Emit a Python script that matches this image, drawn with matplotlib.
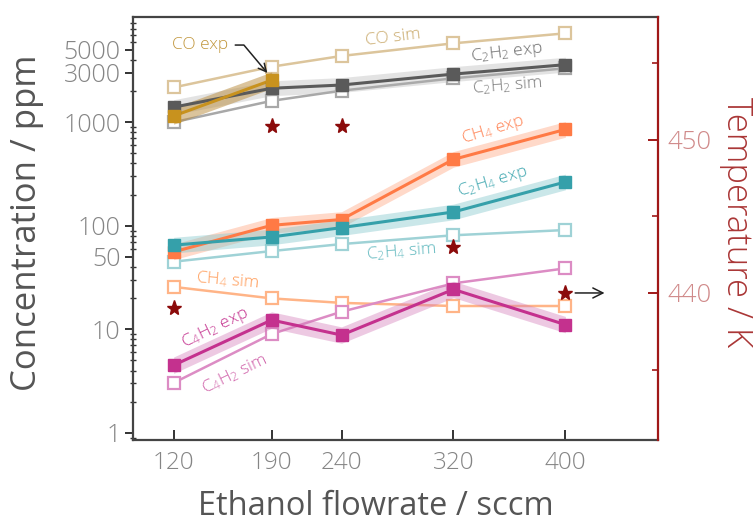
import matplotlib
matplotlib.use("Agg")
import matplotlib.pyplot as plt
from matplotlib.ticker import FixedLocator, LogLocator, NullFormatter, FixedFormatter
import numpy as np

plt.rcParams['font.family'] = ['Open Sans', 'DejaVu Sans']
plt.rcParams['font.weight'] = 'light'

# Ethanol flowrate (sccm)
flow = [120, 190, 240, 320, 400]

# Measured (exp) and simulated (sim) concentrations in ppm
co_flow = [120, 190]
co_exp = [1150, 2550]
co_sim = [2170, 3440, 4370, 5790, 7230]

c2h2_exp = [1400, 2130, 2290, 2920, 3600]
c2h2_sim = [1000, 1610, 2020, 2660, 3320]

ch4_exp = [56, 101, 115, 438, 853]
ch4_sim = [25.7, 19.9, 18.0, 16.8, 16.8]

c2h4_exp = [65, 78, 96, 136, 265]
c2h4_sim = [45, 57, 66.6, 81, 91]

c4h2_exp = [4.5, 12.3, 8.8, 24.3, 11.1]
c4h2_sim = [3.04, 9.0, 14.8, 27.8, 38.8]

# Relative uncertainty of the measured values (shaded bands)
rel_err = {'CO': 0.2, 'C2H2': 0.18, 'CH4': 0.19, 'C2H4': 0.19, 'C4H2': 0.2}

# Gas temperature (K), right axis
temperature = [439.0, 450.9, 450.9, 443.0, 440.0]

y_ticks = [1, 10, 50, 100, 1000, 3000, 5000]
y_ticklabels = ['1', '10', '50', '100', '1000', '3000', '5000']
t_ticks = [440, 450]

fig = plt.figure(figsize=(7.56, 5.24), dpi=100)
ax = fig.add_axes([0.176, 0.160, 0.694, 0.8076])
ax.set_yscale('log')
ax.set_xlim(91, 466)
ax.set_ylim(0.85, 10400)

# (line, sim, band)
colors = {
    'CO': ('#c8921e', '#dcc59c', '#b88a3a'),
    'C2H2': ('#5a5a5a', '#a8a8a8', '#b0b0b0'),
    'CH4': ('#ff7a45', '#ffb487', '#ffa078'),
    'C2H4': ('#35a0aa', '#9fd2d6', '#7cc3c9'),
    'C4H2': ('#c4318e', '#dc8cc4', '#d27ab8'),
}


def draw_sim(x, y, key):
    c = colors[key][1]
    ax.plot(x, y, '-', color=c, lw=1.8, zorder=2)
    ax.plot(x, y, 's', ms=8, mfc='white', mec=c, mew=1.6, zorder=3, ls='none')


def draw_exp(x, y, key, alpha=0.4):
    c = colors[key][0]
    y = np.asarray(y, float)
    e = rel_err[key]
    ax.fill_between(x, y / (1 + e), y * (1 + e), color=colors[key][2],
                    alpha=alpha, lw=0, zorder=4)
    ax.plot(x, y, '-', color=c, lw=2.2, zorder=5)
    ax.plot(x, y, 's', ms=8, color=c, zorder=6, ls='none')


for key, sim in [('CO', co_sim), ('C2H2', c2h2_sim), ('CH4', ch4_sim),
                 ('C2H4', c2h4_sim), ('C4H2', c4h2_sim)]:
    draw_sim(flow, sim, key)

draw_exp(flow, c2h2_exp, 'C2H2', alpha=0.35)
draw_exp(flow, ch4_exp, 'CH4')
draw_exp(flow, c2h4_exp, 'C2H4')
draw_exp(flow, c4h2_exp, 'C4H2')
draw_exp(co_flow, co_exp, 'CO', alpha=0.5)

# Axis styling
ax.set_xticks(flow)
ax.set_xticklabels([str(f) for f in flow])
ax.yaxis.set_major_locator(FixedLocator(y_ticks))
ax.yaxis.set_major_formatter(FixedFormatter(y_ticklabels))
ax.yaxis.set_minor_locator(LogLocator(base=10, subs=np.arange(2, 10)))
ax.yaxis.set_minor_formatter(NullFormatter())
ax.tick_params(axis='x', direction='in', length=7, width=1.4, colors='#333333',
               labelcolor='#858585', labelsize=17.5, pad=8)
ax.tick_params(axis='y', which='major', direction='out', length=6, width=1.4,
               colors='#333333', labelcolor='#858585', labelsize=18, pad=3)
ax.tick_params(axis='y', which='minor', direction='inout', length=4, width=1.0,
               colors='#333333')
ax.set_xlabel('Ethanol flowrate / sccm', fontsize=23.5, color='#555555')
ax.xaxis.set_label_coords(0.463, -0.178)
ax.xaxis.label.set_verticalalignment('baseline')
ax.set_ylabel('Concentration / ppm', fontsize=25, color='#555555')
ax.yaxis.set_label_coords(-0.202, 0.513)
ax.yaxis.label.set_verticalalignment('center')
for s in ['top', 'left', 'bottom']:
    ax.spines[s].set_color('#444444')
    ax.spines[s].set_linewidth(1.6)
ax.spines['right'].set_visible(False)

# Temperature axis
ax2 = ax.twinx()
ax2.set_ylim(430.4, 458.0)
ax2.plot(flow, temperature, '*', color='#8b0a0a', ms=11, ls='none', zorder=7)
ax2.yaxis.set_major_locator(FixedLocator(t_ticks))
ax2.yaxis.set_minor_locator(FixedLocator([435, 445, 455]))
ax2.tick_params(axis='y', which='major', direction='in', length=7, width=1.4,
                colors='#a01818', labelcolor='#d08a8a', labelsize=18.5, pad=7)
ax2.tick_params(axis='y', which='minor', direction='in', length=4, width=1.2,
                colors='#a01818')
for s in ['top', 'left', 'bottom']:
    ax2.spines[s].set_visible(False)
ax2.spines['right'].set_color('#a01818')
ax2.spines['right'].set_linewidth(1.6)
ax2.annotate('', xy=(428, temperature[-1]), xytext=(407, temperature[-1]),
             arrowprops=dict(arrowstyle='->', color='#222222', lw=1.1,
                             mutation_scale=18, shrinkA=0, shrinkB=0))
fig.text(736 / 756, 1 - 222 / 524, 'Temperature / K', fontsize=25,
         color='#aa3636', rotation=270, ha='center', va='center')

# Series labels
fs = 12.5
ax.annotate('CO exp', xy=(187, 2990), xytext=(139, 5570),
            color='#c0953a', fontsize=fs, va='center', ha='center',
            arrowprops=dict(arrowstyle='->', color='#222222', lw=1.1,
                            connectionstyle='angle,angleA=0,angleB=130,rad=0',
                            shrinkA=3, shrinkB=0, mutation_scale=14))
ax.text(277, 6500, 'CO sim', color='#c9a96a', fontsize=fs, rotation=7,
        ha='center', va='center')
ax.text(358, 4660, r'C$\mathregular{_2}$H$\mathregular{_2}$ exp', color='#6a6a6a',
        fontsize=fs, rotation=7, ha='center', va='center')
ax.text(358.5, 2280, r'C$\mathregular{_2}$H$\mathregular{_2}$ sim', color='#7a7a7a',
        fontsize=fs, rotation=5, ha='center', va='center')
ax.text(348, 840, r'CH$\mathregular{_4}$ exp', color='#ff8050', fontsize=fs,
        rotation=17, ha='center', va='center')
ax.text(348, 263, r'C$\mathregular{_2}$H$\mathregular{_4}$ exp', color='#3aa5ae',
        fontsize=fs, rotation=17, ha='center', va='center')
ax.text(283, 56.6, r'C$\mathregular{_2}$H$\mathregular{_4}$ sim', color='#5fb8be',
        fontsize=fs, rotation=5, ha='center', va='center')
ax.text(158.4, 29.7, r'CH$\mathregular{_4}$ sim', color='#ff9a55', fontsize=fs,
        rotation=-5, ha='center', va='center')
ax.text(149.5, 10.3, r'C$\mathregular{_4}$H$\mathregular{_2}$ exp', color='#c4318e',
        fontsize=fs, rotation=26, ha='center', va='center')
ax.text(164, 3.7, r'C$\mathregular{_4}$H$\mathregular{_2}$ sim', color='#cf5fa8',
        fontsize=fs, rotation=26, ha='center', va='center')

fig.savefig('out.png', dpi=100)
